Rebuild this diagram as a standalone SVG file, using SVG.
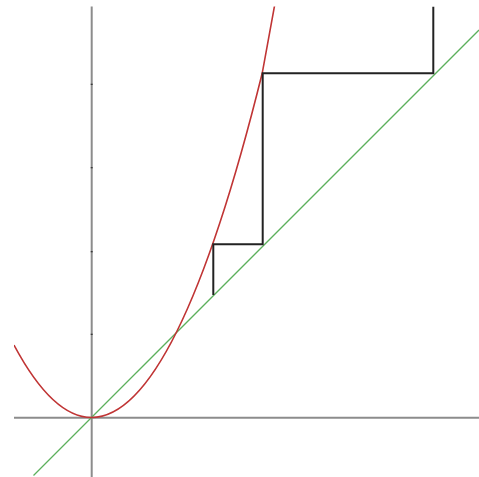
<svg xmlns="http://www.w3.org/2000/svg" width="479" height="477" viewBox="0 0 479 477">
  <style>
    .axis { stroke: #8c8c8c; stroke-width: 2; fill: none; }
    .tick { stroke: #333333; stroke-width: 1.2; fill: none; }
    .curve { stroke: #c03535; stroke-width: 1.6; fill: none; }
    .diag { stroke: #5cb05c; stroke-width: 1.3; fill: none; }
    .web { stroke: #222222; stroke-width: 2; fill: none; stroke-linejoin: miter; }
  </style>
  <defs>
    <clipPath id="plot">
      <rect x="14" y="6.5" width="465" height="470.5"/>
    </clipPath>
  </defs>
  <rect width="479" height="477" fill="#ffffff"/>
  <g id="axes">
    <line class="axis" x1="14" y1="417.7" x2="479" y2="417.7"/>
    <line class="axis" x1="91.7" y1="6.5" x2="91.7" y2="477"/>
    <g id="ticks">
      <line class="tick" x1="90.7" y1="84.3" x2="92.7" y2="84.3"/>
      <line class="tick" x1="90.7" y1="167.7" x2="92.7" y2="167.7"/>
      <line class="tick" x1="90.7" y1="251.7" x2="92.7" y2="251.7"/>
      <line class="tick" x1="90.7" y1="334.3" x2="92.7" y2="334.3"/>
    </g>
  </g>
  <g id="connectors" clip-path="url(#plot)">
    <path id="diagonal" class="diag" d="M 33.5 475.5 L 479 30"/>
    <path id="parabola" class="curve" d="M 14 345.1 Q 52.75 417.5 91.5 417.5 Q 176.85 417.5 262.2 73.3 L 275.6 0"/>
    <path id="cobweb" class="web" d="M 213.3 295 V 244.3 H 262.7 V 73.3 H 433.3 V 6.5"/>
  </g>
</svg>
